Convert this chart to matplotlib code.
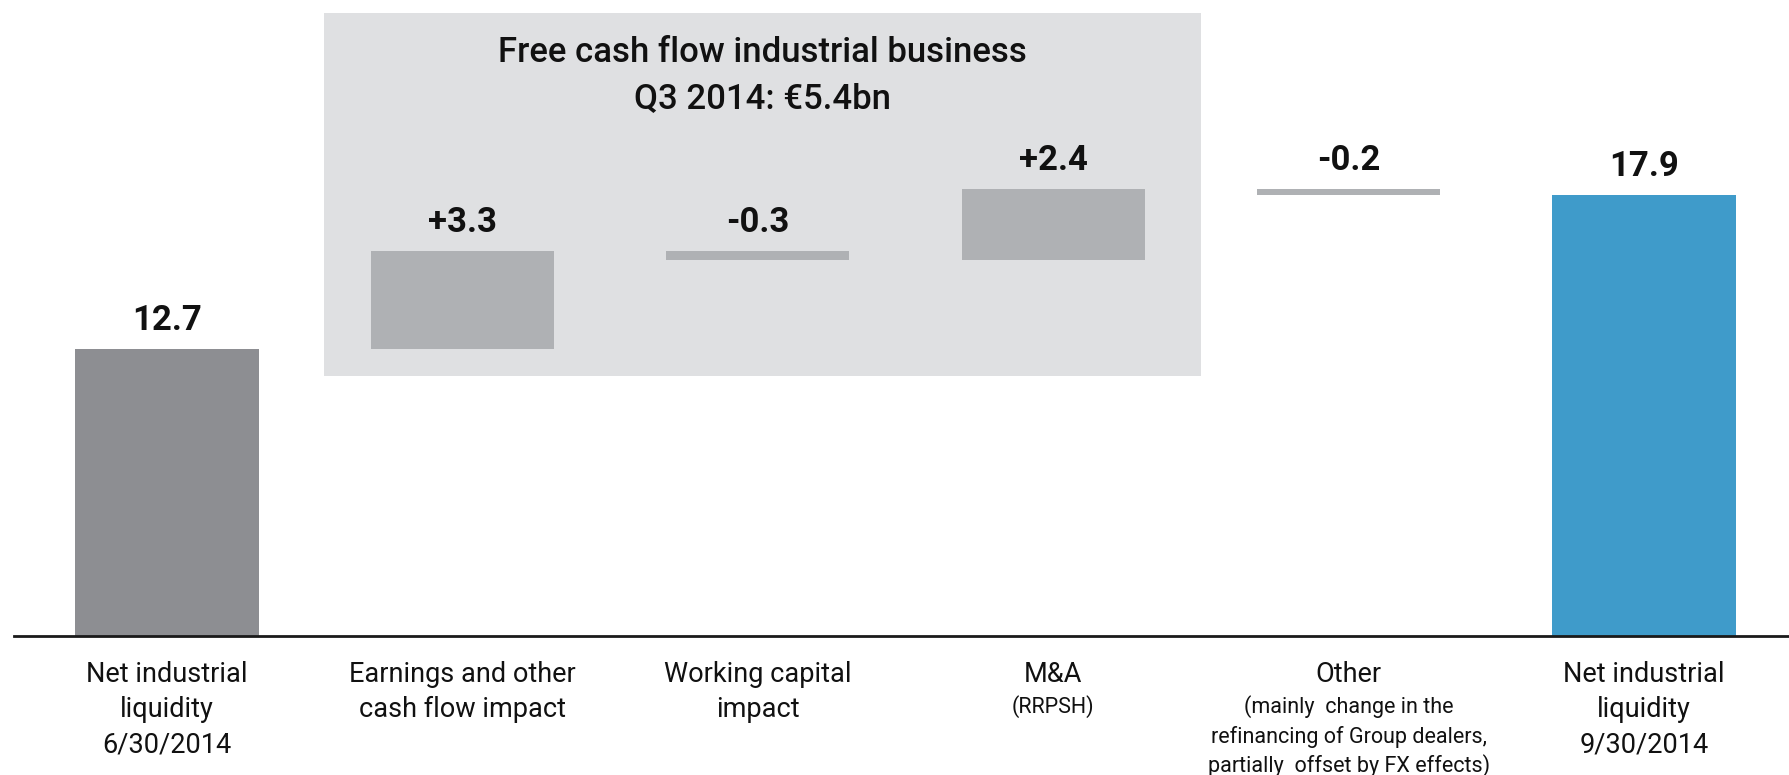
import matplotlib
matplotlib.use("Agg")
import matplotlib.pyplot as plt
from matplotlib.patches import Rectangle
from matplotlib import font_manager

# ---- data -------------------------------------------------------------
categories = [
    "Net industrial\nliquidity\n6/30/2014",
    "Earnings and other\ncash flow impact",
    "Working capital\nimpact",
    "M&A",
    "Other",
    "Net industrial\nliquidity\n9/30/2014",
]
sublabels = [
    "",
    "",
    "",
    "(RRPSH)",
    "(mainly  change in the\nrefinancing of Group dealers,\npartially  offset by FX effects)",
    "",
]
start_value = 12.7
changes = [3.3, -0.3, 2.4, -0.2]
end_value = 17.9
value_labels = ["12.7", "+3.3", "-0.3", "+2.4", "-0.2", "17.9"]
box_title = ["Free cash flow industrial business", "Q3 2014: \u20ac5.4bn"]

# ---- style ------------------------------------------------------------
available = {f.name for f in font_manager.fontManager.ttflist}
family = "Roboto" if "Roboto" in available else "Liberation Sans"
plt.rcParams["font.family"] = [family, "DejaVu Sans"]

c_total = "#8d8e92"
c_step = "#afb1b4"
c_end = "#3f9bca"
c_box = "#dfe0e2"

fig = plt.figure(figsize=(17.9, 7.75), dpi=100)
ax = fig.add_axes([14 / 1790, 1 - 636 / 775, 1 - 14 / 1790, 636 / 775])
ax.set_xlim(-0.518, 5.494)
ax.set_ylim(3.0, 24.5)

width = 0.62

# waterfall geometry
bottoms, heights, colors, tops = [], [], [], []
bottoms.append(0)
heights.append(start_value)
colors.append(c_total)
tops.append(start_value)
level = start_value
for ch in changes:
    new = level + ch
    bottoms.append(min(level, new))
    heights.append(abs(ch))
    colors.append(c_step)
    tops.append(max(level, new))
    level = new
bottoms.append(0)
heights.append(end_value)
colors.append(c_end)
tops.append(end_value)

x = list(range(len(categories)))

# shaded group behind the free-cash-flow steps
ax.add_patch(Rectangle((0.531, 11.79), 3.50 - 0.531, 24.05 - 11.79,
                       facecolor=c_box, edgecolor="none", zorder=0))
ax.text(2.016, 22.72, box_title[0], ha="center", va="center",
        fontsize=25, fontweight="medium", color="#111111", zorder=3)
ax.text(2.016, 21.15, box_title[1], ha="center", va="center",
        fontsize=25, fontweight="medium", color="#111111", zorder=3)

ax.bar(x, heights, bottom=bottoms, width=width, color=colors,
       edgecolor="none", zorder=2)

for xi, top, lab in zip(x, tops, value_labels):
    ax.annotate(lab, xy=(xi, top), xytext=(0, 29), textcoords="offset pixels",
                ha="center", va="center", fontsize=25, fontweight="bold",
                color="#111111", zorder=4)

# category labels under the axis
for xi, cat, sub in zip(x, categories, sublabels):
    lines = cat.split("\n")
    off = -38
    for ln in lines:
        ax.annotate(ln, xy=(xi, 0), xycoords=("data", "axes fraction"),
                    xytext=(0, off), textcoords="offset pixels",
                    ha="center", va="center", fontsize=19.5, color="#111111",
                    annotation_clip=False)
        off -= 35.4
    if sub:
        off += 35.4 - 33
        for ln in sub.split("\n"):
            ax.annotate(ln, xy=(xi, 0), xycoords=("data", "axes fraction"),
                        xytext=(0, off), textcoords="offset pixels",
                        ha="center", va="center", fontsize=15.5, color="#111111",
                        annotation_clip=False)
            off -= 29.5

for side in ("top", "right", "left"):
    ax.spines[side].set_visible(False)
ax.spines["bottom"].set_linewidth(2)
ax.spines["bottom"].set_color("#1a1a1a")
ax.set_xticks([])
ax.set_yticks([])

fig.savefig("out.png", dpi=100)
